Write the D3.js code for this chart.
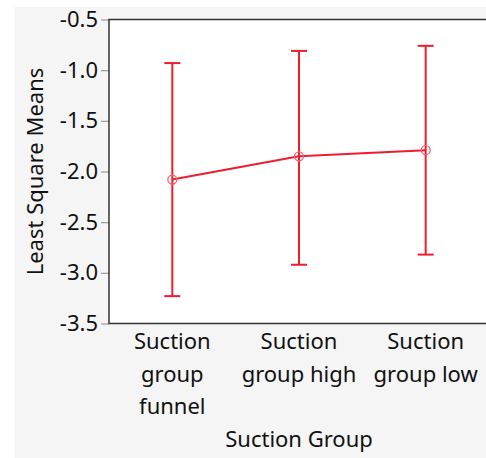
<!DOCTYPE html>
<html>
<head>
<meta charset="utf-8">
<script src="https://cdn.jsdelivr.net/npm/d3@7"></script>
<style>
  html, body { margin: 0; padding: 0; background: #ffffff; }
  svg { display: block; }
  text { font-family: "Noto Sans", "Open Sans", sans-serif; fill: #111; }
</style>
</head>
<body>
<svg id="chart" width="486" height="458"></svg>
<script>
// ---- data ----
const categories = ["Suction group funnel", "Suction group high", "Suction group low"];
const categoryLines = [["Suction", "group", "funnel"], ["Suction", "group high"], ["Suction", "group low"]];
const means = [-2.08, -1.85, -1.79];
const upper = [-0.93, -0.81, -0.76];
const lower = [-3.23, -2.92, -2.82];
const yTicks = [-0.5, -1.0, -1.5, -2.0, -2.5, -3.0, -3.5];
const yTitle = "Least Square Means";
const xTitle = "Suction Group";

// ---- layout ----
const W = 486, H = 458;
const plot = { left: 109, top: 19.5, right: 489, bottom: 323.5 };
const red = "#ee1c2e";
const fontSize = 22;

const svg = d3.select("#chart");

// gray frame background
svg.append("rect").attr("x", 14.5).attr("y", 7).attr("width", W - 14.5).attr("height", H - 7)
  .attr("fill", "#f5f5f5");

const x = d3.scalePoint().domain(categories).range([plot.left, plot.right]).padding(0.5);
const y = d3.scaleLinear().domain([-3.5, -0.5]).range([plot.bottom, plot.top]);

// plot background
svg.append("rect").attr("x", plot.left).attr("y", plot.top)
  .attr("width", plot.right - plot.left).attr("height", plot.bottom - plot.top)
  .attr("fill", "#ffffff");

// y axis
const yAxis = d3.axisLeft(y).tickValues(yTicks).tickFormat(d3.format(".1f")).tickSize(8).tickPadding(3);
const gy = svg.append("g").attr("transform", `translate(${plot.left},0)`).call(yAxis);
gy.select(".domain").remove();
gy.selectAll(".tick line").attr("stroke", "#999").attr("stroke-width", 1.2);
gy.selectAll(".tick text").attr("font-size", fontSize).attr("fill", "#111")
  .attr("font-family", "'Noto Sans', sans-serif")
  .text(d => d3.format(".1f")(d).replace("−", "-"));

// x axis labels (wrapped)
const gx = svg.append("g");
categories.forEach((c, i) => {
  const t = gx.append("text").attr("text-anchor", "middle").attr("font-size", fontSize)
    .attr("x", x(c)).attr("y", 349);
  categoryLines[i].forEach((ln, j) => {
    t.append("tspan").attr("x", x(c)).attr("dy", j === 0 ? 0 : 32.5).text(ln);
  });
});

// titles
svg.append("text").attr("text-anchor", "middle").attr("font-size", fontSize)
  .attr("x", (plot.left + plot.right) / 2).attr("y", 447).text(xTitle);
svg.append("text").attr("text-anchor", "middle").attr("font-size", fontSize)
  .attr("transform", `translate(43,${(plot.top + plot.bottom) / 2}) rotate(-90)`).text(yTitle);

// error bars
const capW = 8;
const eg = svg.append("g").attr("stroke", red).attr("stroke-width", 2).attr("fill", "none");
categories.forEach((c, i) => {
  eg.append("line").attr("x1", x(c)).attr("x2", x(c)).attr("y1", y(upper[i])).attr("y2", y(lower[i]));
  eg.append("line").attr("x1", x(c) - capW).attr("x2", x(c) + capW).attr("y1", y(upper[i])).attr("y2", y(upper[i]));
  eg.append("line").attr("x1", x(c) - capW).attr("x2", x(c) + capW).attr("y1", y(lower[i])).attr("y2", y(lower[i]));
});

// mean line
const line = d3.line().x((d, i) => x(categories[i])).y(d => y(d));
svg.append("path").datum(means).attr("d", line).attr("fill", "none")
  .attr("stroke", red).attr("stroke-width", 2);

// markers
svg.append("g").selectAll("circle").data(means).join("circle")
  .attr("cx", (d, i) => x(categories[i])).attr("cy", d => y(d)).attr("r", 4.5)
  .attr("fill", "none").attr("stroke", "#f0606c").attr("stroke-width", 1.3);

// plot border (top, left, bottom)
svg.append("path")
  .attr("d", `M${plot.right},${plot.top}H${plot.left}V${plot.bottom}H${plot.right}`)
  .attr("fill", "none").attr("stroke", "#333").attr("stroke-width", 1.5);
</script>
</body>
</html>
